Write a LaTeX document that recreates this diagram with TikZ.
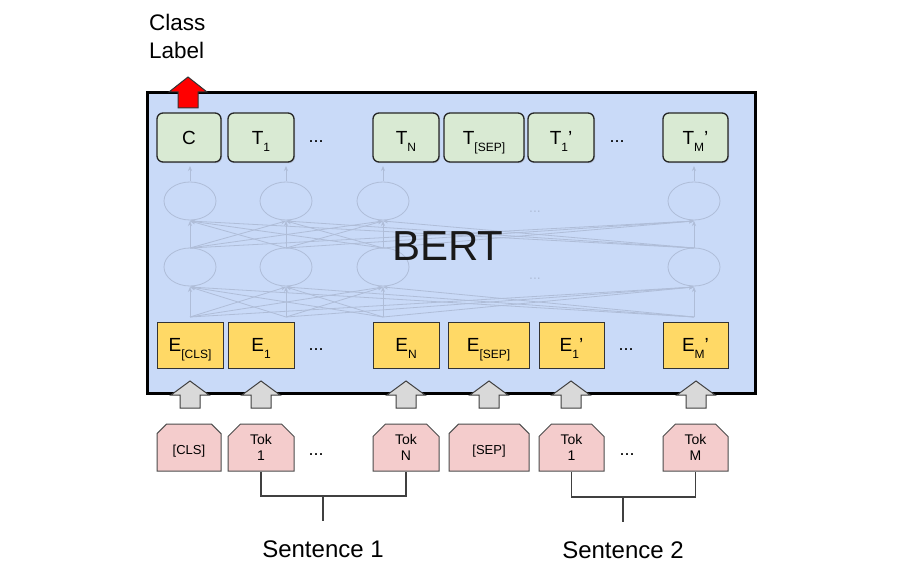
\documentclass[tikz,border=0pt]{standalone}
\usepackage{fontspec}
\setmainfont{Liberation Sans}
\usetikzlibrary{shapes.misc,arrows.meta,shadows}
\definecolor{bgblue}{HTML}{C9DAF8}
\definecolor{tgreen}{HTML}{D9EAD3}
\definecolor{eyellow}{HTML}{FFD966}
\definecolor{tokpink}{HTML}{F4CCCC}
\definecolor{fade}{HTML}{AFBDD8}
\definecolor{garr}{HTML}{D9D9D9}
\newcommand\lsub[1]{\raisebox{-7pt}[0pt][0pt]{\fontsize{12}{12}\selectfont #1}}
\newcommand\lprime{'}
\newcommand\tdown[2]{\raisebox{-#1}[\height][\depth]{#2}}
\begin{document}
\begin{tikzpicture}[x=1pt,y=-1pt,
  tbox/.style={draw=black!85, fill=tgreen, rounded corners=6pt, line width=1.3pt,
    minimum height=49pt, minimum width=65pt, inner sep=0pt,
    font=\fontsize{19}{20}\selectfont,
    drop shadow={shadow xshift=1pt, shadow yshift=-1.2pt, opacity=0.35}},
  ebox/.style={draw=black!80, fill=eyellow, line width=1pt,
    minimum height=46pt, minimum width=66pt, inner sep=0pt,
    font=\fontsize{19}{20}\selectfont},
  tokbox/.style={chamfered rectangle, chamfered rectangle corners={north west, north east},
    chamfered rectangle xsep=9pt, draw=black!70, fill=tokpink, line width=1pt,
    minimum height=47pt, minimum width=65pt, inner sep=0pt, align=center,
    font=\fontsize{14}{16}\selectfont},
  dots/.style={font=\fontsize{18}{20}\selectfont, inner sep=0pt},
  fadeline/.style={draw=fade, line width=0.8pt, -{Stealth[length=5pt,width=4pt]}},
  fadenode/.style={draw=fade, line width=0.8pt},
  garrow/.pic={\draw[fill=garr, draw=black!75, line width=1pt]
    (0,0) -- (19,14) -- (10,14) -- (10,27) -- (-10,27) -- (-10,14) -- (-19,14) -- cycle;},
  rarrow/.pic={\draw[fill=red, draw=black!80, line width=1pt]
    (0,0) -- (19,15) -- (10,15) -- (10,31) -- (-10,31) -- (-10,15) -- (-19,15) -- cycle;},
  sent/.style={font=\fontsize{24}{26}\selectfont, inner sep=0pt},
  bracket/.style={draw=black!75, line width=1.2pt}
]
\useasboundingbox (0,0) rectangle (924,575);
\fill[white] (0,0) rectangle (924,575);

% main BERT box
\node[draw=black, line width=3pt, fill=bgblue, minimum width=608pt, minimum height=300pt, inner sep=0pt] (bert) at (451,243) {};

% faded network
\foreach \xa in {190,286,383,694} {
  \draw[fadenode] (\xa,201) ellipse [x radius=26, y radius=19];
  \draw[fadenode] (\xa,267) ellipse [x radius=26, y radius=19];
  \draw[fadeline] (\xa,181) -- (\xa,166);
  \foreach \xb in {190,286,383,694} {
    \draw[fadeline] (\xa,248) -- (\xb,221);
    \draw[fadeline] (\xa,317) -- (\xb,287);
  }
}
\node[font=\fontsize{14}{14}\selectfont, text=fade] (fd1) at (535,212) {...};
\node[font=\fontsize{14}{14}\selectfont, text=fade] (fd2) at (535,279) {...};

\node[font=\fontsize{42}{42}\selectfont, text=black!90] (bertlabel) at (448,246) {BERT};

% output row
\node[tbox, minimum width=64pt] (c) at (189,137.5) {C};
\node[tbox, minimum width=66pt] (t1) at (261,137.5) {T\lsub{1}};
\node[tbox, minimum width=66pt] (tn) at (406,137.5) {T\lsub{N}};
\node[tbox, minimum width=80pt] (tsep) at (484,137.5) {T\lsub{[SEP]}};
\node[tbox, minimum width=66pt] (t1p) at (561,137.5) {T\lsub{1}\lprime};
\node[tbox, minimum width=65pt] (tmp) at (695.5,137.5) {T\lsub{M}\lprime};
\node[dots] (dt1) at (316,142) {...};
\node[dots] (dt2) at (617,142) {...};

% embedding row
\node[ebox] (ecls) at (190,345) {E\lsub{[CLS]}};
\node[ebox] (e1) at (261,345) {E\lsub{1}};
\node[ebox] (en) at (406,345) {E\lsub{N}};
\node[ebox, minimum width=81pt] (esep) at (488.5,345) {E\lsub{[SEP]}};
\node[ebox, minimum width=65pt] (e1p) at (571.5,345) {E\lsub{1}\lprime};
\node[ebox, minimum width=65pt] (emp) at (695.5,345) {E\lsub{M}\lprime};
\node[dots] (de1) at (316,350) {...};
\node[dots] (de2) at (626,350) {...};

% grey input arrows
\foreach \xa in {190,261,406,489,571,696} {
  \pic at (\xa,381) {garrow};
}

% red output arrow
\pic at (188,77) {rarrow};

% tokens
\node[tokbox, minimum width=64pt, font=\fontsize{13}{16}\selectfont] (tcls) at (189,447.5) {\tdown{4pt}{[CLS]}};
\node[tokbox, minimum width=66pt] (tok1) at (261,447.5) {Tok\\1};
\node[tokbox, minimum width=66pt] (tokn) at (406,447.5) {Tok\\N};
\node[tokbox, minimum width=80pt, font=\fontsize{13}{16}\selectfont] (tsepi) at (489,447.5) {\tdown{4pt}{[SEP]}};
\node[tokbox, minimum width=65pt] (tok1p) at (571.5,447.5) {Tok\\1};
\node[tokbox, minimum width=65pt] (tokm) at (695.5,447.5) {Tok\\M};
\node[dots] (dk1) at (316,455) {...};
\node[dots] (dk2) at (627,455) {...};

% sentence brackets
\coordinate (s1mid) at (323,496);
\coordinate (s1end) at (323,521);
\coordinate (s2mid) at (623,497);
\coordinate (s2end) at (623,522);
\draw[bracket] (tok1.south) |- (s1mid) -| (tokn.south);
\draw[bracket] (s1mid) -- (s1end);
\draw[bracket] (tok1p.south) |- (s2mid) -| (tokm.south);
\draw[bracket] (s2mid) -- (s2end);
\node[sent] (sent1) at (323,549) {Sentence 1};
\node[sent] (sent2) at (623,550) {Sentence 2};

% class label
\node[anchor=west, align=left, inner sep=0pt, font=\fontsize{22.5}{28}\selectfont] (cls) at (149,36) {Class\\Label};
\end{tikzpicture}
\end{document}
